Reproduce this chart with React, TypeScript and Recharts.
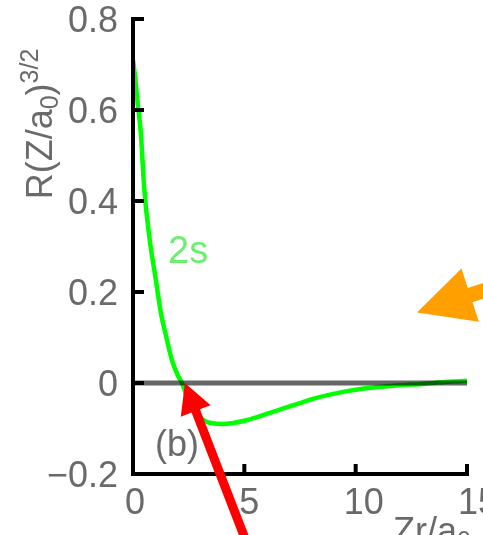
import React from "react";
import { LineChart, Line, XAxis, YAxis, ReferenceLine, ReferenceDot } from "recharts";

// Radial distance Zr/a0 and the 2s radial function R (in units of (Z/a0)^3/2)
const RADIUS = [0, 0.1, 0.2, 0.35, 0.5, 0.75, 1, 1.25, 1.5, 1.75, 2, 2.2, 2.5, 3, 3.5, 4, 4.5, 5, 5.5, 6, 6.5, 7, 7.5, 8, 9, 10, 11, 12, 13, 14, 15];
const R_2S = [0.71, 0.67, 0.62, 0.55, 0.43, 0.315, 0.235, 0.155, 0.1, 0.05, 0.018, 0, -0.04, -0.075, -0.088, -0.09, -0.088, -0.083, -0.076, -0.068, -0.06, -0.052, -0.044, -0.036, -0.024, -0.015, -0.009, -0.005, -0.002, 0.002, 0.005];

const X_TICKS = [0, 5, 10, 15];
const Y_TICKS = [-0.2, 0, 0.2, 0.4, 0.6, 0.8];

// Where the two annotation arrows point
const NODE_POINT = { r: 2.33, v: 0 };
const ORANGE_POINT = { r: 12.75, v: 0.155 };

const data = RADIUS.map((r, i) => ({ r, v: R_2S[i] }));

const FONT = "'Liberation Sans', Arial, sans-serif";
const GREY = "#6a6a6a";

const fmtY = (v: number) => (v < 0 ? "\u2212" + String(Math.abs(v)) : String(v));

// Arrow polygon anchored at its tip, heading back along unit vector (ux, uy)
function arrowPoints(tx: number, ty: number, ux: number, uy: number, headLen: number, headHalf: number, shaftHalf: number, total: number) {
  const nx = -uy;
  const ny = ux;
  const bx = tx + ux * headLen;
  const by = ty + uy * headLen;
  const ex = tx + ux * total;
  const ey = ty + uy * total;
  const pts = [
    [tx, ty],
    [bx + nx * headHalf, by + ny * headHalf],
    [bx + nx * shaftHalf, by + ny * shaftHalf],
    [ex + nx * shaftHalf, ey + ny * shaftHalf],
    [ex - nx * shaftHalf, ey - ny * shaftHalf],
    [bx - nx * shaftHalf, by - ny * shaftHalf],
    [bx - nx * headHalf, by - ny * headHalf],
  ];
  return pts.map((p) => p.join(",")).join(" ");
}

const RedArrow = (props: any) => {
  const { cx, cy } = props;
  const len = Math.hypot(58, 150);
  return <polygon points={arrowPoints(cx, cy, 58 / len, 150 / len, 30, 16, 4.5, 200)} fill="#ff0000" />;
};

const OrangeArrow = (props: any) => {
  const { cx, cy } = props;
  const len = Math.hypot(53.5, -17.5);
  return <polygon points={arrowPoints(cx, cy, 53.5 / len, -17.5 / len, 56, 28, 7.5, 140)} fill="#ffa000" />;
};

const XTick = (props: any) => {
  const { x, y, payload } = props;
  const v = payload.value as number;
  return (
    <text x={x + 2 + v * 0.6} y={y} dy="0.71em" textAnchor="middle" fill={GREY} fontSize={36} fontFamily={FONT}>
      {v}
    </text>
  );
};

export default function App() {
  return (
    <div style={{ position: "absolute", left: 0, top: 0, width: 483, height: 535, overflow: "hidden", background: "#fff" }}>
      <style>{`.recharts-line-curve, .recharts-reference-line-line { mix-blend-mode: multiply; }`}</style>
      <LineChart width={483} height={535} data={data} margin={{ top: 19, right: 16, bottom: 31, left: 0 }}>
        <XAxis
          dataKey="r"
          type="number"
          domain={[0, 15]}
          ticks={X_TICKS}
          height={30}
          axisLine={{ stroke: "#000", strokeWidth: 4, strokeLinecap: "square" }}
          tickLine={{ stroke: "#000", strokeWidth: 4 }}
          tickSize={-10}
          tickMargin={24}
          tick={<XTick />}
          interval={0}
        />
        <YAxis
          type="number"
          domain={[-0.2, 0.8]}
          ticks={Y_TICKS}
          width={133}
          allowDataOverflow
          axisLine={{ stroke: "#000", strokeWidth: 4, strokeLinecap: "square" }}
          tickLine={{ stroke: "#000", strokeWidth: 4 }}
          tickSize={-11}
          tickMargin={26}
          tickFormatter={fmtY}
          tick={{ fill: GREY, fontSize: 36, fontFamily: FONT }}
          interval={0}
        />
        <Line type="monotone" dataKey="v" stroke="#00ff00" strokeWidth={4.5} dot={false} isAnimationActive={false} />
        <ReferenceLine y={0} stroke="#666666" strokeWidth={5} />
        <ReferenceDot x={NODE_POINT.r} y={NODE_POINT.v} r={1} shape={<RedArrow />} ifOverflow="visible" />
        <ReferenceDot x={ORANGE_POINT.r} y={ORANGE_POINT.v} r={1} shape={<OrangeArrow />} ifOverflow="visible" />
      </LineChart>
      <svg width={483} height={535} style={{ position: "absolute", left: 0, top: 0, pointerEvents: "none" }}>
        <text transform="translate(52,124) rotate(-90)" textAnchor="middle" fill={GREY} fontSize={36} fontFamily={FONT}>
          R(Z/a
          <tspan fontSize={25} dy={6}>0</tspan>
          <tspan dy={-6}>)</tspan>
          <tspan fontSize={25} dy={-14}>3/2</tspan>
        </text>
        <text x={393} y={543} fill={GREY} fontSize={36} fontFamily={FONT}>
          Zr/a
          <tspan fontSize={25} dy={6}>0</tspan>
        </text>
        <text x={155} y={456} fill={GREY} fontSize={36} fontFamily={FONT}>
          (b)
        </text>
        <text x={168} y={263} fill="#6cf06c" fontSize={38} fontFamily={FONT}>
          2s
        </text>
      </svg>
    </div>
  );
}
